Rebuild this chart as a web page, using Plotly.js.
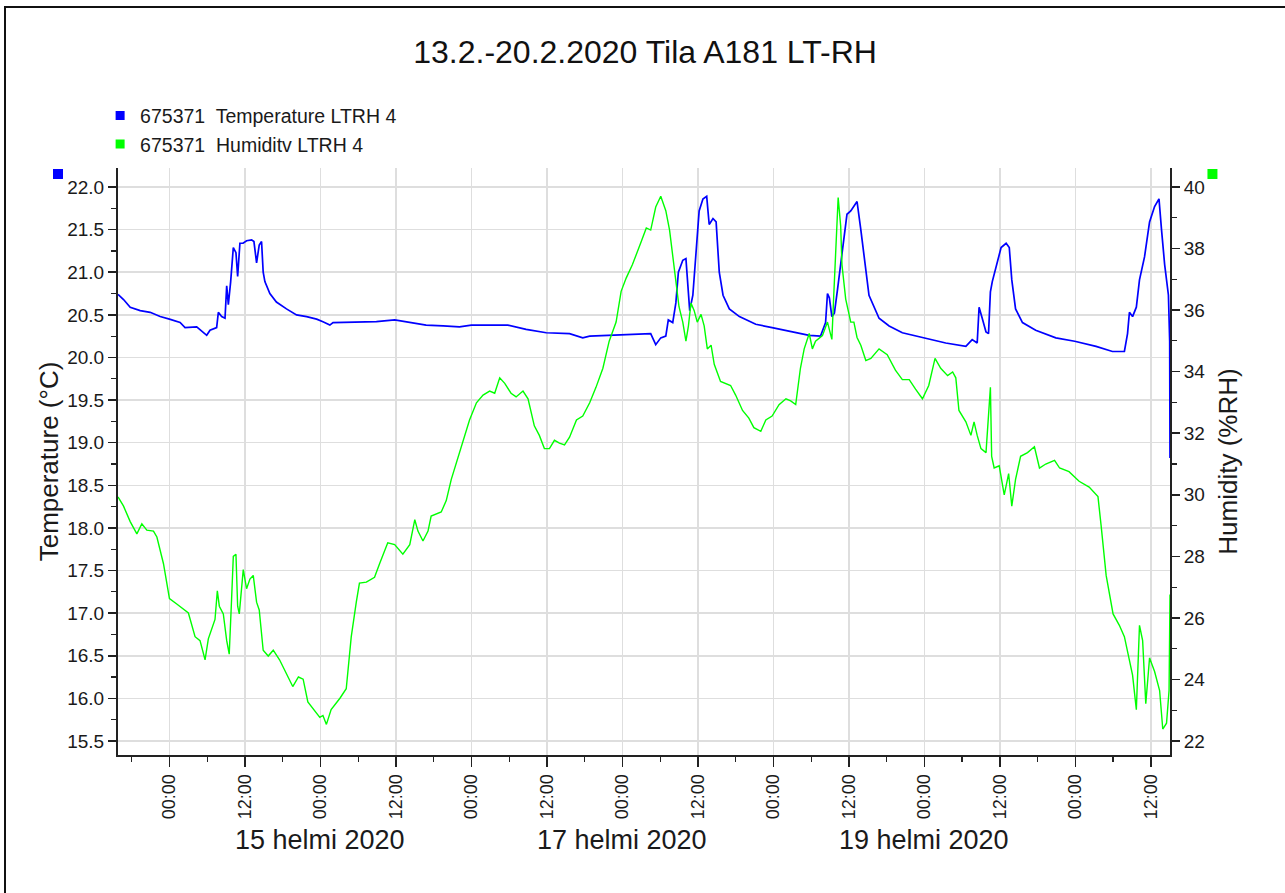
<!DOCTYPE html>
<html>
<head>
<meta charset="utf-8">
<script src="https://cdn.plot.ly/plotly-3.0.1.min.js"></script>
<style>
  html, body { margin: 0; padding: 0; background: #fff; }
  #wrap { position: relative; width: 1285px; height: 893px; }
  #chart { width: 1285px; height: 893px; }
  #frame { position: absolute; left: 4px; top: 6px; width: 1279px; height: 900px;
           border-top: 2px solid #111; border-left: 2px solid #111; border-right: 1px solid #d0d0d0;
           pointer-events: none; }
</style>
</head>
<body>
<div id="wrap">
  <div id="chart"></div>
  <div id="frame"></div>
</div>
<script>
// ---- Data (hours since 2020-02-14 00:00) ----
const chartTitle = '13.2.-20.2.2020 Tila A181 LT-RH';
const tempName = '675371\u00a0 Temperature LTRH 4';
const humName = '675371\u00a0 Humiditv LTRH 4';

const tempHours = [-8.18, -7.3, -6.24, -4.65, -3.07, -1.48, 0, 1.69, 2.48, 4.33, 5.92, 6.45, 7.5, 7.77, 8.3, 8.83, 9.1, 9.36, 9.73, 10.15,
  10.57, 10.84, 11.2, 11.7, 12.26, 13.06, 13.43, 13.85, 14.27, 14.64, 14.9, 15.17, 15.96, 17.0, 18.6, 20.2, 21.8, 23.4, 24.4, 25.5,
  26.0, 29.7, 32.9, 35.8, 38.2, 40.8, 43.5, 46.1, 48.0, 53.8, 56.7, 59.9, 63.6, 65.7, 66.8, 70.5, 76.5, 77.3, 78.1, 78.9,
  79.3, 80.0, 80.5, 80.9, 81.6, 82.1, 82.4, 82.7, 83.2, 83.7, 84.2, 84.8, 85.4, 85.8, 86.4, 86.9, 87.4, 88.0, 89.0, 90.6,
  93.2, 95.8, 99.0, 101.7, 103.5, 104.3, 104.6, 104.9, 105.3, 105.7, 106.2, 106.6, 107.2, 107.7, 108.3, 109.1, 109.3, 109.9, 110.7, 111.2,
  112.8, 114.4, 116.5, 120.0, 123.4, 126.6, 127.6, 128.4, 128.7, 129.2, 129.8, 130.2, 130.5, 130.8, 131.4, 132.2, 133.0, 133.5, 133.9, 134.5,
  135.6, 137.7, 140.9, 143.9, 147.3, 149.9, 151.8, 152.3, 152.6, 153.1, 153.7, 154.2, 155.0, 155.8, 156.6, 157.3, 157.7, 158.2, 158.8, 159.0, 159.05];
const tempValues = [20.74, 20.68, 20.59, 20.55, 20.53, 20.48, 20.45, 20.41, 20.35, 20.36, 20.26, 20.32, 20.35, 20.53, 20.48, 20.46, 20.84, 20.62, 20.89, 21.29,
  21.23, 20.95, 21.34, 21.34, 21.37, 21.38, 21.36, 21.11, 21.32, 21.36, 21.0, 20.89, 20.75, 20.65, 20.57, 20.50, 20.48, 20.45, 20.42, 20.38,
  20.41, 20.42, 20.42, 20.44, 20.41, 20.38, 20.37, 20.36, 20.38, 20.38, 20.33, 20.29, 20.28, 20.23, 20.25, 20.26, 20.28, 20.15, 20.23, 20.25,
  20.44, 20.41, 20.64, 21.0, 21.14, 21.16, 20.82, 20.55, 20.73, 21.27, 21.72, 21.86, 21.89, 21.56, 21.63, 21.59, 21.0, 20.73, 20.57, 20.48,
  20.39, 20.35, 20.30, 20.26, 20.25, 20.41, 20.75, 20.70, 20.48, 20.52, 20.80, 21.05, 21.41, 21.68, 21.72, 21.81, 21.83, 21.50, 21.05, 20.73,
  20.46, 20.37, 20.29, 20.23, 20.17, 20.13, 20.21, 20.17, 20.59, 20.46, 20.30, 20.28, 20.77, 20.89, 21.07, 21.29, 21.34, 21.29, 20.91, 20.57,
  20.41, 20.32, 20.23, 20.19, 20.13, 20.07, 20.07, 20.28, 20.53, 20.48, 20.59, 20.91, 21.18, 21.59, 21.77, 21.86, 21.50, 21.09, 20.73, 20.19, 18.82];

const humHours = [-8.18, -7.3, -6.24, -5.18, -4.39, -3.6, -2.54, -2.0, -0.95, 0, 1.16, 3.01, 4.07, 4.86, 5.66, 6.18, 7.24, 7.61, 7.93, 8.56,
  9.1, 9.5, 9.88, 10.15, 10.57, 10.84, 11.1, 11.47, 11.73, 12.26, 12.79, 13.32, 13.85, 14.27, 14.9, 15.7, 16.5, 17.5, 18.6, 19.6,
  20.5, 21.25, 22.0, 23.1, 23.9, 24.4, 24.95, 25.7, 27.1, 28.1, 28.9, 29.7, 30.2, 31.3, 32.6, 33.4, 34.7, 35.8, 37.1, 38.2,
  39.0, 39.5, 40.3, 41.1, 41.6, 43.2, 44.0, 44.8, 45.4, 46.7, 47.7, 48.8, 49.85, 50.9, 51.7, 52.5, 53.3, 54.3, 55.1, 56.2,
  57.0, 58.0, 58.8, 59.6, 60.4, 61.2, 62.0, 62.8, 63.6, 64.7, 65.7, 66.8, 67.8, 68.9, 69.9, 71.0, 71.8, 72.6, 73.6, 75.0,
  75.8, 76.5, 77.3, 78.1, 78.9, 79.5, 80.0, 80.5, 81.0, 81.6, 82.1, 82.5, 82.9, 83.4, 83.9, 84.5, 85.0, 85.5, 86.1, 86.6,
  87.6, 89.2, 90.0, 91.1, 92.1, 92.9, 94.0, 94.8, 95.8, 96.9, 98.0, 98.75, 99.55, 100.3, 100.9, 101.7, 102.2, 102.7, 103.8, 104.6,
  105.3, 105.6, 106.0, 106.3, 106.7, 106.9, 107.5, 108.3, 108.8, 109.3, 109.9, 110.7, 111.5, 112.8, 114.1, 115.4, 116.5, 117.6, 118.6, 119.7,
  120.7, 121.7, 122.6, 123.7, 124.5, 125.0, 125.5, 126.6, 127.4, 127.9, 128.4, 129.0, 129.8, 130.2, 130.5, 130.7, 131.1, 131.9, 132.7, 133.4,
  133.9, 134.5, 135.3, 136.4, 137.5, 138.3, 139.3, 140.7, 141.5, 143.0, 144.6, 146.2, 147.6, 148.1, 148.9, 150.0, 151.0, 151.8, 152.6, 153.1,
  153.7, 154.2, 154.7, 155.2, 155.8, 156.6, 157.4, 157.9, 158.5, 158.9, 159.05];
const humValues = [29.93, 29.63, 29.13, 28.73, 29.06, 28.85, 28.82, 28.63, 27.76, 26.63, 26.45, 26.16, 25.39, 25.26, 24.64, 25.32, 25.95, 26.88, 26.38, 26.13,
  25.26, 24.82, 26.63, 28.0, 28.07, 26.38, 26.13, 27.13, 27.57, 26.95, 27.26, 27.38, 26.51, 26.26, 24.95, 24.76, 24.95, 24.64, 24.2, 23.77,
  24.08, 24.01, 23.27, 22.96, 22.77, 22.83, 22.54, 23.02, 23.39, 23.70, 25.39, 26.51, 27.13, 27.16, 27.32, 27.76, 28.44, 28.38, 28.07, 28.38,
  29.19, 28.82, 28.5, 28.82, 29.31, 29.44, 29.81, 30.5, 30.9, 31.75, 32.43, 32.99, 33.24, 33.37, 33.3, 33.8, 33.62, 33.3, 33.18, 33.37,
  33.12, 32.24, 31.93, 31.5, 31.5, 31.77, 31.68, 31.62, 31.87, 32.43, 32.56, 32.99, 33.49, 34.11, 34.99, 35.61, 36.61, 37.04, 37.48, 38.23,
  38.67, 38.6, 39.35, 39.70, 39.23, 38.6, 37.73, 36.98, 36.11, 35.61, 34.99, 35.49, 36.23, 35.99, 35.61, 35.86, 35.49, 34.74, 34.86, 34.24,
  33.68, 33.55, 33.24, 32.74, 32.49, 32.18, 32.06, 32.43, 32.56, 32.93, 33.12, 33.05, 32.93, 34.11, 34.74, 35.24, 34.74, 34.99, 35.17, 35.61,
  35.05, 36.48, 38.35, 39.66, 38.73, 37.48, 36.36, 35.61, 35.61, 35.11, 34.86, 34.36, 34.43, 34.74, 34.55, 34.05, 33.74, 33.74, 33.43, 33.12,
  33.55, 34.43, 34.11, 33.87, 33.99, 33.8, 32.74, 32.37, 31.93, 32.37, 31.93, 31.5, 31.37, 32.74, 33.49, 31.25, 30.87, 30.94, 30.0, 30.69,
  29.63, 30.5, 31.25, 31.37, 31.56, 30.87, 31.0, 31.12, 30.87, 30.75, 30.44, 30.25, 29.94, 29.0, 27.38, 26.13, 25.76, 25.39, 24.64, 24.14,
  23.02, 25.76, 25.26, 23.21, 24.7, 24.26, 23.64, 22.39, 22.58, 23.64, 26.76];

const dateLabelDates = ['2020-02-15 00:00', '2020-02-17 00:00', '2020-02-19 00:00'];
const dateLabelTexts = ['15 helmi 2020', '17 helmi 2020', '19 helmi 2020'];

// ---- helpers ----
const baseMs = Date.UTC(2020, 1, 14, 0, 0, 0);
function toDate(h) {
  return new Date(baseMs + h * 3600000).toISOString().replace('T', ' ').slice(0, 19);
}
const FONT = 'Liberation Sans, Arial, sans-serif';
const TXT = '#1a1a1a';

const traces = [
  { x: humHours.map(toDate), y: humValues, yaxis: 'y2', type: 'scatter', mode: 'lines',
    line: { color: '#00ff00', width: 1.4 }, showlegend: false, hoverinfo: 'x+y' },
  { x: tempHours.map(toDate), y: tempValues, yaxis: 'y', type: 'scatter', mode: 'lines',
    line: { color: '#0000ff', width: 1.7 }, showlegend: false, hoverinfo: 'x+y' },
  { x: [null], y: [null], type: 'scatter', mode: 'markers', name: tempName,
    marker: { symbol: 'square', size: 9, color: '#0000ff' } },
  { x: [null], y: [null], type: 'scatter', mode: 'markers', name: humName, yaxis: 'y2',
    marker: { symbol: 'square', size: 9, color: '#00ff00' } }
];

const layout = {
  width: 1285, height: 893,
  paper_bgcolor: '#ffffff', plot_bgcolor: '#ffffff',
  margin: { l: 118, r: 114.5, t: 168, b: 138 },
  font: { family: FONT, color: TXT, size: 18 },
  title: { text: chartTitle, font: { family: FONT, size: 32, color: '#111' },
           xref: 'container', x: 0.502, xanchor: 'center', yref: 'container', y: 0.942, yanchor: 'middle' },
  showlegend: true,
  legend: { x: -0.017, xanchor: 'left', y: 1.122, yanchor: 'top', font: { family: FONT, size: 19.5, color: TXT },
            bgcolor: 'rgba(0,0,0,0)', traceorder: 'normal', itemwidth: 30 },
  xaxis: {
    type: 'date',
    range: [toDate(-8.18), toDate(159.05)],
    tick0: '2020-02-14 00:00', dtick: 43200000, tickformat: '%H:%M', tickangle: -90,
    ticks: 'outside', ticklen: 10, tickwidth: 1.5, tickcolor: '#222',
    tickfont: { family: FONT, size: 18, color: TXT },
    showline: true, linecolor: '#222', linewidth: 2,
    showgrid: true, gridcolor: '#dedede', gridwidth: 1.5,
    minor: { dtick: 21600000, tick0: '2020-02-14 00:00', ticks: 'outside', ticklen: 5, tickwidth: 1.2, tickcolor: '#222', showgrid: false },
    zeroline: false, fixedrange: true
  },
  yaxis: {
    range: [15.336, 22.223], dtick: 0.5, tick0: 15.5, tickformat: '.1f',
    ticks: 'outside', ticklen: 8, tickwidth: 1.5, tickcolor: '#222',
    tickfont: { family: FONT, size: 19, color: TXT },
    showline: true, linecolor: '#222', linewidth: 2,
    showgrid: true, gridcolor: '#dedede', gridwidth: 1.5, zeroline: false,
    minor: { dtick: 0.25, ticks: 'outside', ticklen: 5, tickwidth: 1.2, tickcolor: '#222', showgrid: false },
    title: { text: 'Temperature (°C)', font: { family: FONT, size: 26, color: TXT }, standoff: 1 },
    fixedrange: true
  },
  yaxis2: {
    overlaying: 'y', side: 'right', anchor: 'x',
    range: [21.546, 40.617], dtick: 2, tick0: 22,
    ticks: 'outside', ticklen: 8, tickwidth: 1.5, tickcolor: '#222',
    tickfont: { family: FONT, size: 19, color: TXT },
    showline: true, linecolor: '#222', linewidth: 2,
    showgrid: false, zeroline: false,
    minor: { dtick: 1, ticks: 'outside', ticklen: 5, tickwidth: 1.2, tickcolor: '#222', showgrid: false },
    title: { text: 'Humidity (%RH)', font: { family: FONT, size: 26, color: TXT }, standoff: 14 },
    fixedrange: true
  },
  annotations: dateLabelDates.map((d, i) => ({
    x: d, xref: 'x', y: -0.1448, yref: 'paper', text: dateLabelTexts[i], showarrow: false,
    xanchor: 'center', yanchor: 'middle', font: { family: FONT, size: 27, color: TXT }
  })),
  shapes: [
    { type: 'rect', xref: 'paper', yref: 'paper', x0: -0.0618, x1: -0.0523, y0: 0.9813, y1: 0.9983,
      fillcolor: '#0000ff', line: { width: 0 } },
    { type: 'rect', xref: 'paper', yref: 'paper', x0: 1.0356, x1: 1.0451, y0: 0.9813, y1: 0.9983,
      fillcolor: '#00ff00', line: { width: 0 } }
  ]
};

Plotly.newPlot('chart', traces, layout, { displayModeBar: false, staticPlot: true });
</script>
</body>
</html>
